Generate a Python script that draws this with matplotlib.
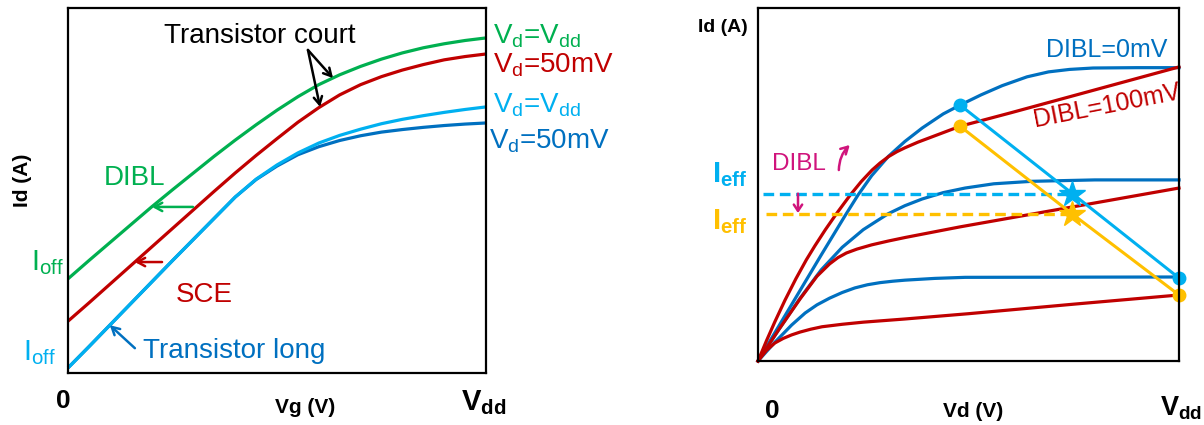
import matplotlib
matplotlib.use("Agg")
import matplotlib.pyplot as plt

# ---------------- data (normalised units: x in Vdd, y in axis height) -------------
# Left panel: Id(Vg) curves
vg = [0.0, 0.05, 0.1, 0.15, 0.2, 0.25, 0.3, 0.35, 0.4, 0.45, 0.5,
      0.55, 0.6, 0.65, 0.7, 0.75, 0.8, 0.85, 0.9, 0.95, 1.0]
id_short_vdd = [0.258, 0.308, 0.357, 0.406, 0.455, 0.502, 0.548, 0.594, 0.638, 0.680, 0.720,
                0.757, 0.790, 0.817, 0.840, 0.860, 0.877, 0.891, 0.902, 0.911, 0.918]
id_short_50 = [0.142, 0.192, 0.243, 0.294, 0.345, 0.396, 0.447, 0.498, 0.548, 0.596, 0.642,
               0.687, 0.727, 0.762, 0.790, 0.812, 0.830, 0.845, 0.858, 0.867, 0.874]
id_long_vdd = [0.014, 0.072, 0.131, 0.190, 0.249, 0.308, 0.366, 0.424, 0.482, 0.531, 0.570,
               0.603, 0.630, 0.651, 0.668, 0.683, 0.695, 0.705, 0.714, 0.722, 0.729]
id_long_50 = [0.014, 0.072, 0.131, 0.190, 0.249, 0.308, 0.366, 0.424, 0.482, 0.530, 0.567,
              0.598, 0.620, 0.637, 0.650, 0.660, 0.667, 0.673, 0.678, 0.682, 0.685]
left_labels = ["$\\mathregular{V_d}$=$\\mathregular{V_{dd}}$", "$\\mathregular{V_d}$=50mV",
               "$\\mathregular{V_d}$=$\\mathregular{V_{dd}}$", "$\\mathregular{V_d}$=50mV"]

# Right panel: Id(Vd) curves, DIBL = 0 mV (blue) and DIBL = 100 mV (red)
vd_b_top = [0.0, 0.03, 0.06, 0.105, 0.15, 0.207, 0.2375, 0.27, 0.31, 0.349, 0.39, 0.44, 0.48,
            0.53, 0.58, 0.639, 0.69, 0.74, 0.796, 0.9, 1.0]
id_b_top = [0.0, 0.060, 0.120, 0.210, 0.300, 0.412, 0.470, 0.525, 0.580, 0.622, 0.660, 0.700, 0.725,
            0.754, 0.780, 0.805, 0.819, 0.826, 0.830, 0.831, 0.831]
vd_b_mid = [0.0, 0.05, 0.1, 0.15, 0.2, 0.25, 0.28, 0.309, 0.349, 0.39, 0.44, 0.492, 0.56, 0.65, 0.8, 1.0]
id_b_mid = [0.0, 0.090, 0.178, 0.258, 0.322, 0.372, 0.395, 0.417, 0.440, 0.459, 0.477, 0.490, 0.502,
            0.509, 0.513, 0.513]
vd_b_low = [0.0, 0.04, 0.08, 0.112, 0.14, 0.17, 0.2, 0.23, 0.26, 0.29, 0.32, 0.349, 0.42, 0.492, 1.0]
id_b_low = [0.0, 0.053, 0.102, 0.136, 0.159, 0.178, 0.194, 0.207, 0.216, 0.222, 0.226, 0.229, 0.234,
            0.237, 0.238]
vd_r_top = [0.0, 0.02, 0.04, 0.064, 0.09, 0.115, 0.135, 0.16, 0.188, 0.219, 0.245, 0.271, 0.29, 0.31,
            0.33, 0.349, 0.38, 0.42, 0.48, 0.6, 0.8, 1.0]
id_r_top = [0.0, 0.057, 0.111, 0.172, 0.233, 0.287, 0.326, 0.372, 0.420, 0.470, 0.508, 0.541, 0.561,
            0.579, 0.593, 0.604, 0.620, 0.638, 0.665, 0.703, 0.768, 0.833]
vd_r_mid = [0.0, 0.05, 0.1, 0.14, 0.17, 0.19, 0.21, 0.235, 0.27, 0.31, 0.35, 0.48, 1.0]
id_r_mid = [0.0, 0.090, 0.176, 0.240, 0.275, 0.293, 0.306, 0.317, 0.329, 0.340, 0.350, 0.380, 0.490]
vd_r_low = [0.0, 0.02, 0.04, 0.06, 0.08, 0.1, 0.125, 0.152, 0.2, 0.25, 0.349, 0.5, 0.75, 1.0]
id_r_low = [0.0, 0.030, 0.051, 0.064, 0.074, 0.082, 0.090, 0.097, 0.104, 0.110, 0.119, 0.134, 0.161, 0.187]

# operating-point paths (circle - star - circle)
op_vd = [0.48, 0.747, 1.0]
op_id_dibl0 = [0.725, 0.474, 0.235]
op_id_dibl100 = [0.665, 0.416, 0.187]

# ---------------- style ----------------
GREEN = "#00B050"
RED = "#C00000"
LBLUE = "#00B0F0"
DBLUE = "#0070C0"
ORANGE = "#FFC000"
MAGENTA = "#D0147C"

plt.rcParams["font.family"] = ["Liberation Sans", "DejaVu Sans"]
plt.rcParams["mathtext.fontset"] = "custom"
plt.rcParams["mathtext.rm"] = "Liberation Sans"
plt.rcParams["mathtext.bf"] = "Liberation Sans:bold"
plt.rcParams["mathtext.it"] = "Liberation Sans:italic"

W, H = 1204, 425
fig = plt.figure(figsize=(W / 100, H / 100), dpi=100)


def fx(px):
    return px / W


def fy(py):
    return 1 - py / H


def setup(ax):
    ax.set_xlim(0, 1)
    ax.set_ylim(0, 1)
    ax.set_xticks([])
    ax.set_yticks([])
    for s in ax.spines.values():
        s.set_linewidth(1.6)
        s.set_color("black")
        s.set_zorder(10)


# ---------------- left panel ----------------
ax1 = fig.add_axes([fx(68), fy(373), fx(486) - fx(68), fy(8) - fy(373)])
setup(ax1)
LW = 2.3
common = dict(lw=LW, solid_capstyle="butt", solid_joinstyle="round", clip_on=False)
ax1.plot(vg, id_long_50, color=DBLUE, **common)
ax1.plot(vg, id_long_vdd, color=LBLUE, **common)
ax1.plot(vg, id_short_50, color=RED, **common)
ax1.plot(vg, id_short_vdd, color=GREEN, **common)

fs = 20
lab_colors = [GREEN, RED, LBLUE, DBLUE]
lab_pos = [(1.017, 0.904), (1.017, 0.822), (1.017, 0.715), (1.007, 0.616)]
for t, c, (x, y) in zip(left_labels, lab_colors, lab_pos):
    ax1.text(x, y, t, color=c, fontsize=fs, ha="left", va="baseline", clip_on=False)

ax1.text(-0.0885, 0.282, "$\\mathregular{I_{off}}$", color=GREEN, fontsize=21, ha="left", va="baseline")
ax1.text(-0.108, 0.036, "$\\mathregular{I_{off}}$", color=LBLUE, fontsize=21, ha="left", va="baseline")

ax1.text(0.459, 0.904, "Transistor court", color="black", fontsize=fs, ha="center", va="baseline")
ax1.text(0.086, 0.515, "DIBL", color=GREEN, fontsize=fs, ha="left", va="baseline")
ax1.text(0.258, 0.195, "SCE", color=RED, fontsize=fs, ha="left", va="baseline")
ax1.text(0.179, 0.041, "Transistor long", color=DBLUE, fontsize=fs, ha="left", va="baseline")

arw = dict(arrowstyle="->,head_length=0.55,head_width=0.3", lw=1.8, shrinkA=0, shrinkB=0)
ax1.annotate("", xy=(0.201, 0.455), xytext=(0.299, 0.455), arrowprops=dict(color=GREEN, **arw))
ax1.annotate("", xy=(0.160, 0.304), xytext=(0.225, 0.304), arrowprops=dict(color=RED, **arw))
ax1.annotate("", xy=(0.100, 0.131), xytext=(0.160, 0.068), arrowprops=dict(color=DBLUE, **arw))
ax1.annotate("", xy=(0.634, 0.808), xytext=(0.574, 0.885), arrowprops=dict(color="black", **arw))
ax1.annotate("", xy=(0.603, 0.729), xytext=(0.574, 0.885), arrowprops=dict(color="black", **arw))

fig.text(fx(23), fy(180), "Id (A)", rotation=90, fontsize=15, fontweight="bold", ha="center", va="center")
fig.text(fx(63), fy(408), "0", fontsize=19, fontweight="bold", ha="center", va="baseline")
fig.text(fx(305), fy(413), "Vg (V)", fontsize=15, fontweight="bold", ha="center", va="baseline")
fig.text(fx(461), fy(410), "$\\mathbf{V_{dd}}$", fontsize=21, ha="left", va="baseline")

# ---------------- right panel ----------------
ax2 = fig.add_axes([fx(758), fy(361), fx(1179) - fx(758), fy(8) - fy(361)])
setup(ax2)
common2 = dict(lw=2.3, solid_joinstyle="round", clip_on=False, zorder=3)
for xs, ys in [(vd_b_top, id_b_top), (vd_b_mid, id_b_mid), (vd_b_low, id_b_low)]:
    ax2.plot(xs, ys, color=DBLUE, **common2)
for xs, ys in [(vd_r_top, id_r_top), (vd_r_mid, id_r_mid), (vd_r_low, id_r_low)]:
    ax2.plot(xs, ys, color=RED, **common2)

# dashed I_eff lines
ax2.plot([0.012, op_vd[1]], [op_id_dibl0[1], op_id_dibl0[1]], color=LBLUE, lw=2.4,
         linestyle=(0, (3.2, 1.7)), zorder=4, clip_on=False)
ax2.plot([0.019, op_vd[1]], [op_id_dibl100[1], op_id_dibl100[1]], color=ORANGE, lw=2.4,
         linestyle=(0, (3.2, 1.7)), zorder=4, clip_on=False)

# operating-point paths
ax2.plot(op_vd, op_id_dibl100, color=ORANGE, lw=2.2, zorder=5, clip_on=False)
ax2.plot(op_vd, op_id_dibl0, color=LBLUE, lw=2.2, zorder=6, clip_on=False)
for ys, c, z in [(op_id_dibl100, ORANGE, 7), (op_id_dibl0, LBLUE, 8)]:
    ax2.plot([op_vd[0], op_vd[2]], [ys[0], ys[2]], "o", color=c, ms=9, zorder=z, clip_on=False)
    ax2.plot([op_vd[1]], [ys[1]], "*", color=c, ms=19, zorder=z, clip_on=False)

ax2.text(0.684, 0.861, "DIBL=0mV", color=DBLUE, fontsize=18, ha="left", va="baseline")
ax2.text(0.658, 0.664, "DIBL=100mV", color=RED, fontsize=18, ha="left", va="baseline",
         rotation=11, rotation_mode="anchor")
ax2.text(0.033, 0.541, "DIBL", color=MAGENTA, fontsize=17.5, ha="left", va="baseline")
ax2.annotate("", xy=(0.218, 0.612), xytext=(0.192, 0.541),
             arrowprops=dict(arrowstyle="->,head_length=0.5,head_width=0.28", color=MAGENTA, lw=1.8,
                             shrinkA=0, shrinkB=0, connectionstyle="arc3,rad=-0.2"))
ax2.annotate("", xy=(0.095, 0.419), xytext=(0.095, 0.474),
             arrowprops=dict(arrowstyle="->,head_length=0.45,head_width=0.3", color=MAGENTA, lw=1.8,
                             shrinkA=0, shrinkB=0), zorder=9)

ax2.text(-0.109, 0.507, "$\\mathbf{I_{eff}}$", color=LBLUE, fontsize=21, ha="left", va="baseline")
ax2.text(-0.109, 0.374, "$\\mathbf{I_{eff}}$", color=ORANGE, fontsize=21, ha="left", va="baseline")

fig.text(fx(723), fy(28), "Id (A)", fontsize=14, fontweight="bold", ha="center", va="center")
fig.text(fx(772), fy(418), "0", fontsize=19, fontweight="bold", ha="center", va="baseline")
fig.text(fx(973), fy(417), "Vd (V)", fontsize=15, fontweight="bold", ha="center", va="baseline")
fig.text(fx(1160), fy(415), "$\\mathbf{V_{dd}}$", fontsize=19.5, ha="left", va="baseline")

fig.savefig("out.png", dpi=100)
